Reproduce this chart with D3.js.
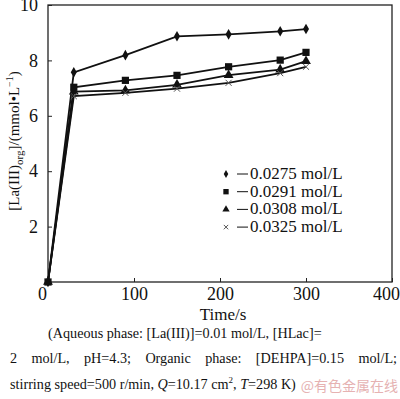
<!DOCTYPE html>
<html>
<head>
<meta charset="utf-8">
<script src="https://cdn.jsdelivr.net/npm/d3@7/dist/d3.min.js"></script>
<style>
  body { margin: 0; background: #fff; }
  svg { display: block; font-family: "Liberation Serif", "DejaVu Serif", serif; }
</style>
</head>
<body>
<svg id="chart" width="400" height="399"></svg>
<script>
// data
const times = [0, 30, 90, 150, 210, 270, 300];
const s0275 = [0, 7.57, 8.19, 8.87, 8.94, 9.05, 9.13];
const s0291 = [0, 7.03, 7.28, 7.46, 7.77, 8.01, 8.29];
const s0308 = [0, 6.87, 6.92, 7.12, 7.47, 7.67, 7.97];
const s0325 = [0, 6.71, 6.83, 6.98, 7.19, 7.54, 7.77];
const seriesNames = ['0.0275 mol/L', '0.0291 mol/L', '0.0308 mol/L', '0.0325 mol/L'];
const xTicks = [0, 100, 200, 300, 400];
const yTicks = [2, 4, 6, 8, 10];

const series = [
    { name: seriesNames[0], values: s0275, sym: 'diamond' },
    { name: seriesNames[1], values: s0291, sym: 'square' },
    { name: seriesNames[2], values: s0308, sym: 'triangle' },
    { name: seriesNames[3], values: s0325, sym: 'times' }
];

const svg = d3.select('#chart');
const x = d3.scaleLinear().domain([0, 400]).range([48, 392]);
const y = d3.scaleLinear().domain([0, 10]).range([282, 5]);

// frame
svg.append('rect')
    .attr('x', x(0)).attr('y', y(10))
    .attr('width', x(400) - x(0)).attr('height', y(0) - y(10))
    .attr('fill', 'none').attr('stroke', '#222').attr('stroke-width', 1.3);

// axes (inward ticks)
const xAxis = svg.append('g').attr('transform', `translate(0,${y(0)})`)
    .call(d3.axisBottom(x).tickValues(xTicks).tickSizeInner(-4).tickSizeOuter(0).tickPadding(5));
xAxis.select('.domain').remove();
xAxis.selectAll('line').attr('stroke', '#222');
xAxis.selectAll('text').attr('font-size', 18).attr('fill', '#111')
    .attr('font-family', '"Liberation Serif", serif')
    .attr('dx', d => d === 0 ? -6 : (d === 400 ? -6 : 0));
xAxis.selectAll('.tick').filter(d => d === 0).select('line').remove();

const yAxis = svg.append('g').attr('transform', `translate(${x(0)},0)`)
    .call(d3.axisLeft(y).tickValues(yTicks).tickSizeInner(-4).tickSizeOuter(0).tickPadding(10));
yAxis.select('.domain').remove();
yAxis.selectAll('line').attr('stroke', '#222');
yAxis.selectAll('text').attr('font-size', 18).attr('fill', '#111')
    .attr('font-family', '"Liberation Serif", serif');

// lines
const line = d3.line().x((d, i) => x(times[i])).y(d => y(d));
series.forEach(s => {
    svg.append('path')
        .attr('d', line(s.values))
        .attr('fill', 'none').attr('stroke', '#111').attr('stroke-width', 1.8);
});

const symType = { diamond: d3.symbolDiamond, square: d3.symbolSquare, triangle: d3.symbolTriangle, times: d3.symbolTimes };
const symSize = { diamond: 32, square: 52, triangle: 42, times: 26 };

function marker(g, sym, cx, cy, scale) {
    const p = g.append('path')
        .attr('d', d3.symbol().type(symType[sym]).size(symSize[sym] * scale)())
        .attr('transform', `translate(${cx},${cy})`);
    if (sym === 'times') p.attr('fill', 'none').attr('stroke', '#555').attr('stroke-width', 1);
    else p.attr('fill', '#111');
}

[0, 2, 3, 1].forEach(k => {
    const s = series[k];
    const g = svg.append('g');
    s.values.forEach((v, i) => marker(g, s.sym, x(times[i]), y(v), 1));
});

// legend
const legend = svg.append('g');
series.forEach((s, i) => {
    const base = 179 + i * 17.7;
    marker(legend, s.sym, 226, base - 5, 0.55);
    legend.append('line').attr('x1', 237).attr('x2', 248)
        .attr('y1', base - 5).attr('y2', base - 5)
        .attr('stroke', '#111').attr('stroke-width', 1);
    legend.append('text').attr('x', 250).attr('y', base)
        .attr('font-size', 17).attr('fill', '#111').text(s.name);
});

// axis titles
svg.append('text').attr('x', 223).attr('y', 320).attr('text-anchor', 'middle')
    .attr('font-size', 17).attr('fill', '#111').text('Time/s');

const yl = svg.append('text')
    .attr('transform', 'translate(19,141) rotate(-90)')
    .attr('text-anchor', 'middle').attr('font-size', 15).attr('fill', '#111');
yl.append('tspan').text('[La(III)');
yl.append('tspan').attr('font-size', 11).attr('dy', 4).text('org');
yl.append('tspan').attr('dy', -4).text(']/(mmol•L');
yl.append('tspan').attr('font-size', 10).attr('dy', -6).text('−1');
yl.append('tspan').attr('dy', 6).text(')');

// caption
const cap = svg.append('g').attr('font-size', 14.2).attr('fill', '#111');
cap.append('text').attr('x', 48).attr('y', 338)
    .text('(Aqueous phase: [La(III)]=0.01 mol/L, [HLac]=');

// justified second line
const words = ['2', 'mol/L,', 'pH=4.3;', 'Organic', 'phase:', '[DEHPA]=0.15', 'mol/L;'];
const wt = words.map(w => cap.append('text').attr('y', 363).text(w));
const widths = wt.map(t => t.node().getComputedTextLength());
const gap = (397 - 10 - d3.sum(widths)) / (words.length - 1);
let cx = 10;
wt.forEach((t, i) => { t.attr('x', cx); cx += widths[i] + gap; });

const l3 = cap.append('text').attr('x', 10).attr('y', 389);
l3.append('tspan').text('stirring speed=500 r/min, ');
l3.append('tspan').attr('font-style', 'italic').text('Q');
l3.append('tspan').text('=10.17 cm');
l3.append('tspan').attr('font-size', 9).attr('dy', -6).text('2');
l3.append('tspan').attr('dy', 6).text(', ');
l3.append('tspan').attr('font-style', 'italic').text('T');
l3.append('tspan').text('=298 K)');

// watermark
svg.append('text').attr('x', 398).attr('y', 391).attr('text-anchor', 'end')
    .attr('font-family', '"Noto Sans CJK SC", sans-serif').attr('font-size', 14)
    .attr('fill', '#e0a0a0').attr('opacity', 0.8).text('@有色金属在线');
</script>
</body>
</html>
